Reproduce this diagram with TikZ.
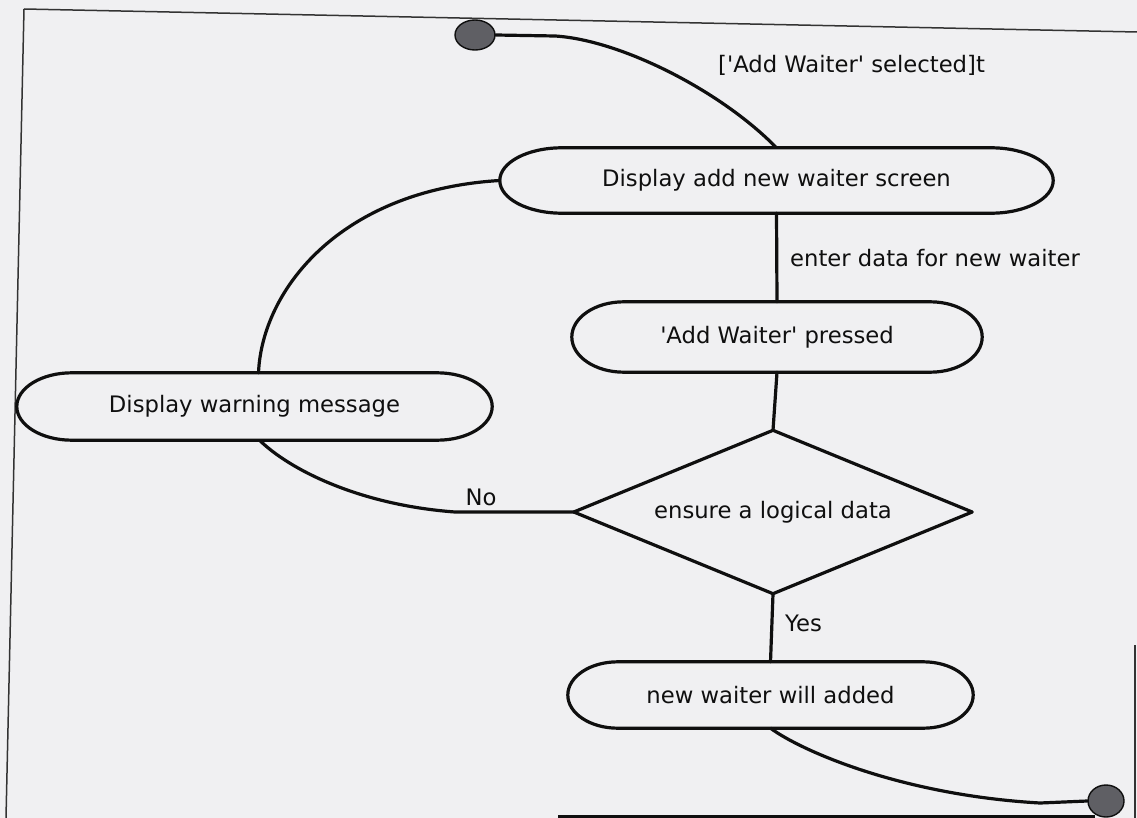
\documentclass[tikz,border=0pt]{standalone}
\usepackage{fontspec}
\setmainfont{DejaVu Sans}[Ligatures=TeXOff]
\usetikzlibrary{calc,shapes.geometric}
\definecolor{paper}{RGB}{240,240,242}
\definecolor{ink}{RGB}{15,15,15}
\definecolor{dot}{RGB}{95,95,100}
\tikzset{
  txt/.style={font=\fontsize{22.7}{27}\selectfont, text=ink, inner sep=0pt},
  actbox/.style={rectangle, draw=none, inner sep=0pt, txt},
  outline/.style={draw=ink, line width=3.2pt, line join=round},
  conn/.style={draw=ink, line width=3.2pt, line cap=round},
  framel/.style={draw=ink!85, line width=1.5pt},
  enddot/.style={ellipse, draw=ink, line width=1.4pt, fill=dot, inner sep=0pt},
}
\newcommand{\ovalline}[2]{%
  \path[outline] let \p1=(#1.north), \p2=(#1.south), \n1={(\y1-\y2)/2} in
    ([xshift=#2]#1.north west) -- ([xshift=-#2]#1.north east)
    arc[start angle=90, end angle=-90, x radius=#2, y radius=\n1]
    -- ([xshift=#2]#1.south west)
    arc[start angle=270, end angle=90, x radius=#2, y radius=\n1] -- cycle;}
\begin{document}
\begin{tikzpicture}[x=1pt,y=1pt]
\useasboundingbox (0,0) rectangle (1137,-818);
\fill[paper] (0,0) rectangle (1137,-818);
% frame
\draw[framel] (24,-9) -- (1137,-32);
\draw[framel] (24,-9) -- (6,-818);
\draw[framel] (1135,-645) -- (1135,-818);
\draw[ink, line width=3pt] (558,-816) -- (1095,-816);
% nodes
\node[enddot, minimum width=40pt, minimum height=30pt] (init) at (475,-35) {};
\node[actbox, minimum width=553pt, minimum height=65pt] (disp) at (776.5,-180.5) {Display add new waiter screen};
\node[actbox, minimum width=410pt, minimum height=70pt] (press) at (777,-337) {'Add Waiter' pressed};
\node[actbox, minimum width=475pt, minimum height=67pt] (warn) at (254.5,-406.5) {Display warning message};
\node[actbox, minimum width=398pt, minimum height=163pt] (dia) at (773,-512) {ensure a logical data};
\node[actbox, minimum width=405pt, minimum height=66pt] (add) at (770.5,-695) {new waiter will added};
\node[enddot, minimum width=36pt, minimum height=32pt] (fin) at (1106,-801) {};
\ovalline{disp}{62pt}
\ovalline{press}{52pt}
\ovalline{warn}{55pt}
\ovalline{add}{50pt}
\draw[outline] (dia.north) -- (dia.east) -- (dia.south) -- (dia.west) -- cycle;
% connectors
\draw[conn] (init.east) -- (555,-36) .. controls (620,-40) and (720,-90) .. (disp.north);
\draw[conn] (disp.south) -- (press.north);
\node[txt, anchor=west] (lenter) at (790,-258) {enter data for new waiter};
\draw[conn] (press.south) -- (dia.north);
\draw[conn] (dia.south) -- (add.north);
\node[txt, anchor=west] (lyes) at (785,-623) {Yes};
\draw[conn] (dia.west) -- (455,-512) .. controls (360,-505) and (290,-470) .. ([xshift=5pt]warn.south);
\node[txt] (lno) at (481,-497) {No};
\draw[conn] ([xshift=4pt]warn.north) .. controls (262,-290) and (340,-190) .. (disp.west);
\draw[conn] (add.south) .. controls (800,-750) and (900,-795) .. (1040,-803) -- (fin.west);
\node[txt, anchor=west] (lsel) at (718,-65) {['Add Waiter' selected]t};
\end{tikzpicture}
\end{document}
